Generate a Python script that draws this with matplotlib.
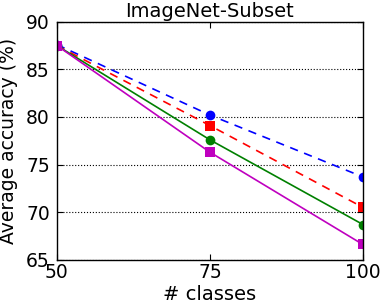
import matplotlib.pyplot as plt

classes = [50, 75, 100]
blue_acc = [87.6, 80.2, 73.7]
red_acc = [87.5, 79.1, 70.5]
green_acc = [87.5, 77.6, 68.7]
magenta_acc = [87.5, 76.3, 66.6]

plt.rcParams['font.family'] = 'DejaVu Sans'
plt.rcParams['font.size'] = 13

fig = plt.figure(figsize=(3.82, 3.07), dpi=100)
ax = fig.add_axes([0.149, 0.154, 0.801, 0.775])

ax.plot(classes, blue_acc, color='b', linestyle='--', marker='o', markersize=7, markeredgewidth=0, linewidth=1.2, dashes=(5, 4))
ax.plot(classes, red_acc, color='r', linestyle='--', marker='s', markersize=7, markeredgewidth=0, linewidth=1.2, dashes=(5, 4))
ax.plot(classes, green_acc, color='g', linestyle='-', marker='o', markersize=7, markeredgewidth=0, linewidth=1.2)
ax.plot(classes, magenta_acc, color='m', linestyle='-', marker='s', markersize=7, markeredgewidth=0, linewidth=1.2)

ax.set_xlim(50, 100)
ax.set_ylim(65, 90)
ax.set_xticks([50, 75, 100])
ax.set_yticks([65, 70, 75, 80, 85, 90])
ax.yaxis.grid(True, linestyle=':', color='k', linewidth=0.8)
ax.tick_params(direction='in', top=True, right=True, length=4, labelsize=13.5)
ax.tick_params(axis='x', pad=2.5)
ax.tick_params(axis='y', pad=5)
for s in ax.spines.values():
    s.set_linewidth(1.0)

ax.set_title('ImageNet-Subset', fontsize=14, pad=3.5)
ax.set_xlabel('# classes', fontsize=14, labelpad=2)
ax.set_ylabel('Average accuracy (%)', fontsize=13.5)
ax.yaxis.set_label_coords(-0.128, 0.5)

fig.savefig('out.png', dpi=100)
